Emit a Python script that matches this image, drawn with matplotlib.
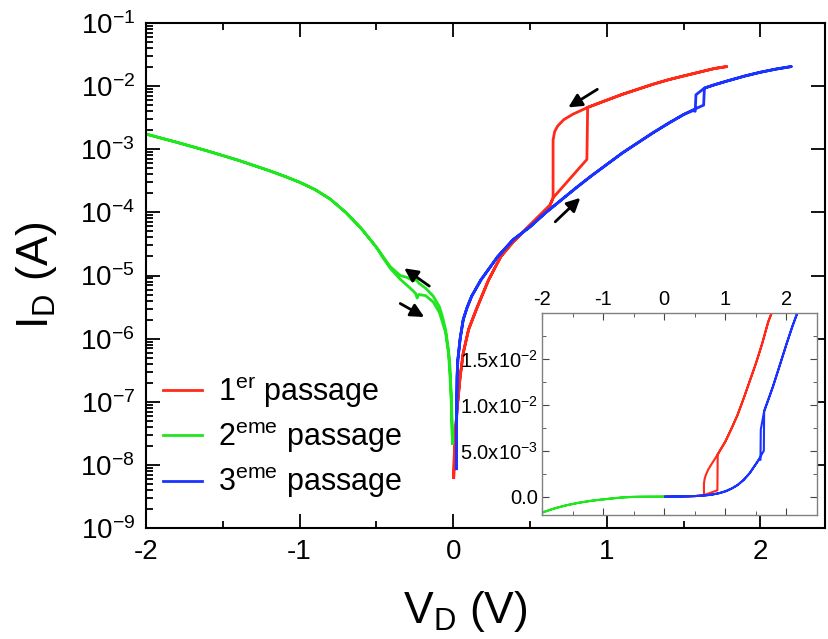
import numpy as np
import matplotlib.pyplot as plt
from matplotlib.ticker import LogLocator, MultipleLocator, FixedLocator, FixedFormatter, NullFormatter

plt.rcParams['font.family'] = ['Liberation Sans', 'DejaVu Sans']
plt.rcParams['mathtext.fontset'] = 'custom'
plt.rcParams['mathtext.rm'] = 'Liberation Sans'
plt.rcParams['axes.unicode_minus'] = False

# 1er passage (aller puis retour)
v_red = [0.003, 0.01, 0.026, 0.045, 0.065, 0.10, 0.155, 0.23, 0.31, 0.39, 0.50, 0.63, 0.65,
         0.87, 0.875, 1.0, 1.1, 1.2, 1.3, 1.4, 1.5, 1.6, 1.7, 1.78,
         1.7, 1.6, 1.5, 1.4, 1.3, 1.2, 1.1, 1.0, 0.875, 0.78, 0.72, 0.68, 0.66, 0.65, 0.65,
         0.63, 0.50, 0.39, 0.31, 0.23, 0.155, 0.10, 0.065, 0.045, 0.026, 0.01, 0.003]
i_red = [6.3e-9, 2.5e-8, 8.1e-8, 2.5e-7, 5.9e-7, 1.4e-6, 3.1e-6, 8.5e-6, 2.0e-5, 3.4e-5, 6.3e-5, 1.3e-4, 1.7e-4,
         6.9e-4, 4.6e-3, 6.0e-3, 7.4e-3, 8.9e-3, 1.07e-2, 1.26e-2, 1.45e-2, 1.66e-2, 1.9e-2, 2.04e-2,
         1.9e-2, 1.66e-2, 1.45e-2, 1.26e-2, 1.07e-2, 8.9e-3, 7.4e-3, 6.0e-3, 4.6e-3, 3.6e-3, 2.95e-3, 2.34e-3, 1.9e-3, 1.4e-3, 1.7e-4,
         1.3e-4, 6.3e-5, 3.4e-5, 2.0e-5, 8.5e-6, 3.1e-6, 1.4e-6, 5.9e-7, 2.5e-7, 8.1e-8, 2.5e-8, 6.3e-9]

# 2eme passage (0 -> -2 puis -2 -> 0), courant negatif
v_green = [-0.005, -0.01, -0.02, -0.03, -0.05, -0.07, -0.09, -0.13, -0.18, -0.225, -0.24, -0.255, -0.27,
           -0.30, -0.345, -0.41, -0.46, -0.5, -0.6, -0.7, -0.8, -0.9, -1.0, -1.1, -1.2, -1.4, -1.6, -1.8, -2.0,
           -1.8, -1.6, -1.4, -1.2, -1.1, -1.0, -0.9, -0.8, -0.7, -0.6, -0.5, -0.46, -0.41, -0.345, -0.28,
           -0.245, -0.235, -0.225, -0.18, -0.13, -0.09, -0.05, -0.03, -0.015, -0.005]
i_green = [2.2e-8, 8e-8, 3.2e-7, 6.3e-7, 1.4e-6, 2.2e-6, 3.2e-6, 4.7e-6, 6.3e-6, 7.6e-6, 8.6e-6, 8.3e-6, 8.5e-6,
           9.3e-6, 1.0e-5, 1.38e-5, 2.04e-5, 2.8e-5, 5.6e-5, 1.0e-4, 1.62e-4, 2.3e-4, 3.0e-4, 3.75e-4, 4.6e-4,
           6.7e-4, 9.4e-4, 1.29e-3, 1.74e-3,
           1.29e-3, 9.4e-4, 6.7e-4, 4.6e-4, 3.75e-4, 3.0e-4, 2.3e-4, 1.62e-4, 1.0e-4, 5.6e-5, 2.8e-5, 1.95e-5,
           1.3e-5, 8.7e-6, 6.3e-6,
           5.2e-6, 4.4e-6, 5.0e-6, 4.8e-6, 3.8e-6, 2.6e-6, 1.26e-6, 5.6e-7, 1.4e-7, 2.2e-8]

# 3eme passage
v_blue = [0.02, 0.022, 0.025, 0.03, 0.045, 0.065, 0.09, 0.12, 0.18, 0.29, 0.39, 0.50, 0.6, 0.7, 0.8, 0.9, 1.0,
          1.1, 1.2, 1.3, 1.4, 1.5, 1.56, 1.63, 1.635, 1.7, 1.78, 1.9, 2.0, 2.1, 2.2,
          2.1, 2.0, 1.9, 1.78, 1.7, 1.635, 1.58, 1.575, 1.56, 1.5, 1.4, 1.3, 1.2, 1.1, 1.0, 0.9, 0.8, 0.7, 0.6,
          0.50, 0.39, 0.29, 0.18, 0.12, 0.09, 0.065, 0.045, 0.03, 0.025, 0.022, 0.02]
i_blue = [8.7e-9, 5e-8, 2.5e-7, 4.6e-7, 1e-6, 2e-6, 3.1e-6, 4.7e-6, 8.5e-6, 2.0e-5, 3.7e-5, 5.9e-5, 9.8e-5,
          1.55e-4, 2.45e-4, 3.8e-4, 5.75e-4, 8.7e-4, 1.26e-3, 1.82e-3, 2.57e-3, 3.55e-3, 4.2e-3, 5.0e-3,
          9.3e-3, 1.05e-2, 1.2e-2, 1.45e-2, 1.66e-2, 1.86e-2, 2.04e-2,
          1.86e-2, 1.66e-2, 1.45e-2, 1.2e-2, 1.05e-2, 9.3e-3, 7.3e-3, 4.0e-3, 4.1e-3, 3.55e-3, 2.57e-3,
          1.82e-3, 1.26e-3, 8.7e-4, 5.75e-4, 3.8e-4, 2.45e-4, 1.55e-4, 9.8e-5,
          5.9e-5, 3.7e-5, 2.0e-5, 8.5e-6, 4.7e-6, 3.1e-6, 2e-6, 1e-6, 4.6e-7, 2.5e-7, 5e-8, 8.7e-9]

# fleches (depart, arrivee) en (V, I)
arrows = [((0.938, 8.9e-3), (0.749, 4.6e-3)),
          ((0.664, 7.1e-5), (0.827, 1.7e-4)),
          ((-0.156, 6.8e-6), (-0.319, 1.3e-5)),
          ((-0.345, 3.6e-6), (-0.189, 2.2e-6))]

labels = [r'1$^{\mathregular{er}}$ passage', r'2$^{\mathregular{eme}}$ passage', r'3$^{\mathregular{eme}}$ passage']
c_red, c_green, c_blue = '#ff2a1a', '#1fe61f', '#1a33ff'

fig = plt.figure(figsize=(8.29, 6.39), dpi=100)
ax = fig.add_axes([146/829, 111/639, 679/829, 505/639])

ax.plot(v_red, i_red, color=c_red, lw=2, label=labels[0])
ax.plot(v_green, i_green, color=c_green, lw=2, label=labels[1])
ax.plot(v_blue, i_blue, color=c_blue, lw=2, label=labels[2])

for (p0, p1) in arrows:
    ax.annotate('', xy=p1, xytext=p0,
                arrowprops=dict(arrowstyle='-|>', lw=2, color='k', mutation_scale=20, shrinkA=0, shrinkB=0))

ax.set_yscale('log')
ax.set_xlim(-2, 2.42)
ax.set_ylim(1e-9, 1e-1)
ax.xaxis.set_major_locator(MultipleLocator(1))
ax.xaxis.set_minor_locator(MultipleLocator(0.5))
ax.yaxis.set_major_locator(LogLocator(base=10, numticks=20))
ax.yaxis.set_minor_locator(LogLocator(base=10, subs=np.arange(2, 10), numticks=20))
ax.yaxis.set_minor_formatter(NullFormatter())
ax.tick_params(which='both', direction='in', top=True, right=True, width=1.3, labelsize=20)
ax.tick_params(which='major', length=10, pad=8)
ax.tick_params(which='minor', length=5)
ax.tick_params(axis='y', which='minor', right=False)
for s in ax.spines.values():
    s.set_linewidth(1.5)

ax.set_xlabel(r'V$_\mathregular{D}$ (V)', fontsize=32)
ax.set_ylabel(r'I$_\mathregular{D}$ (A)', fontsize=32)
ax.xaxis.set_label_coords(0.47, -0.12)
ax.yaxis.set_label_coords(-0.128, 0.5)

ax.legend(loc='lower left', bbox_to_anchor=(-0.015, 0.0), frameon=False, fontsize=22,
          handlelength=1.25, handletextpad=0.55, labelspacing=0.35)

# encart en echelle lineaire
axi = fig.add_axes([542/829, 124/639, 275/829, 202/639])
axi.plot(v_red, i_red, color=c_red, lw=1.5)
axi.plot(v_green, [-i for i in i_green], color=c_green, lw=1.5)
axi.plot(v_blue, i_blue, color=c_blue, lw=1.5)
axi.set_xlim(-2, 2.5)
axi.set_ylim(-2e-3, 2e-2)
axi.xaxis.set_major_locator(MultipleLocator(1))
axi.xaxis.set_minor_locator(MultipleLocator(0.5))
axi.yaxis.set_major_locator(FixedLocator([0, 5e-3, 1e-2, 1.5e-2]))
axi.yaxis.set_major_formatter(FixedFormatter(['0.0', r'5.0x10$^{-3}$', r'1.0x10$^{-2}$', r'1.5x10$^{-2}$']))
axi.yaxis.set_minor_locator(MultipleLocator(2.5e-3))
axi.tick_params(which='both', direction='in', top=True, right=True, labeltop=True, labelbottom=False,
                labelsize=14.5, color='#444444')
axi.tick_params(which='major', length=5, pad=3)
axi.tick_params(which='minor', length=3)
for s in axi.spines.values():
    s.set_color('#808080')
    s.set_linewidth(1.0)

fig.savefig('out.png', dpi=100)
